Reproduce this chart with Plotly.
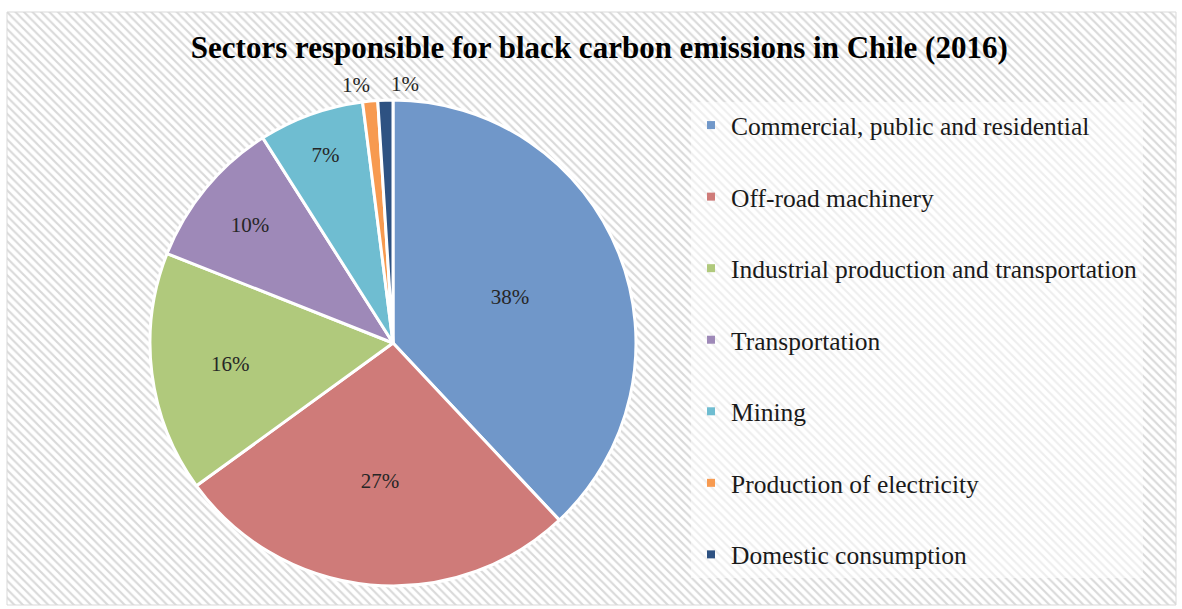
import math
import plotly.graph_objects as go

categories = ["Commercial, public and residential", "Off-road machinery",
              "Industrial production and transportation", "Transportation",
              "Mining", "Production of electricity", "Domestic consumption"]
values = [38, 27, 16, 10, 7, 1, 1]
colors = ["#7097c9", "#cf7b79", "#b0c97c", "#9e89b8", "#6fbdd1", "#f79a50", "#2e5282"]
inside_label = [True, True, True, True, True, False, False]
title_text = "Sectors responsible for black carbon emissions in Chile (2016)"

FONT = "Liberation Serif"
W, H = 1182, 609
ml, mr, mt, mb = 7, 6, 12, 4
pw, ph = W - ml - mr, H - mt - mb

fig = go.Figure()

# hatched background
fig.add_trace(go.Bar(
    x=[0.5], y=[1], width=[1], showlegend=False, hoverinfo="skip",
    marker=dict(color="white", line=dict(width=0),
                pattern=dict(shape="\\", size=6, solidity=0.35,
                             fgcolor="#d9d9d9", bgcolor="white", fillmode="replace")),
))

# pie
cx, cy, r = 393, 343, 243
dom_x = [(cx - r - ml) / pw, (cx + r - ml) / pw]
dom_y = [(H - mb - (cy + r)) / ph, (H - mb - (cy - r)) / ph]
texts = [f"{v}%" if ins else "" for v, ins in zip(values, inside_label)]
fig.add_trace(go.Pie(
    labels=categories, values=values, sort=False, direction="clockwise",
    rotation=0, marker=dict(colors=colors, line=dict(color="white", width=3)),
    text=texts, textinfo="text", textposition="inside",
    insidetextorientation="horizontal",
    textfont=dict(family=FONT, size=21, color="#262626"),
    showlegend=False, domain=dict(x=dom_x, y=dom_y), automargin=False,
))

# outside labels for the small slices, placed from their data angles
annotations = []
total = sum(values)
cum = 0
outside_idx = 0
for v, ins in zip(values, inside_label):
    mid = (cum + v / 2) / total * 2 * math.pi
    cum += v
    if ins:
        continue
    px = cx + r * math.sin(mid)
    py = cy - r * math.cos(mid) - 2
    left = outside_idx % 2 == 1
    annotations.append(dict(
        text=f"{v}%", xref="paper", yref="paper", showarrow=False,
        x=(px - ml + (4 if left else 2)) / pw, y=(H - mb - py) / ph,
        xanchor="left" if left else "right", yanchor="bottom",
        font=dict(family=FONT, size=21, color="#262626"),
    ))
    outside_idx += 1

# legend entries
for i, (c, col) in enumerate(zip(categories, colors)):
    fig.add_trace(go.Scatter(
        x=[None], y=[None], mode="markers", name=c, legendgroup=f"g{i}",
        marker=dict(symbol="square", size=8, color=col),
    ))

fig.update_layout(
    width=W, height=H,
    margin=dict(l=ml, r=mr, t=mt, b=mb),
    paper_bgcolor="white", plot_bgcolor="white",
    bargap=0,
    xaxis=dict(range=[0, 1], visible=False, fixedrange=True),
    yaxis=dict(range=[0, 1], visible=False, fixedrange=True),
    title=dict(text="<b>" + title_text + "</b>", x=0.507, xanchor="center",
               y=1 - 47 / H, yanchor="middle",
               font=dict(family=FONT, size=31, color="#000000")),
    legend=dict(x=(691 - ml) / pw, xanchor="left", y=(H - mb - 102) / ph, yanchor="top",
                bgcolor="rgba(255,255,255,0.55)", tracegroupgap=35.4,
                font=dict(family=FONT, size=25.5, color="#1a1a1a")),
    annotations=annotations,
    shapes=[dict(type="rect", xref="paper", yref="paper", x0=0, x1=1, y0=0, y1=1,
                 line=dict(color="#d9d9d9", width=1))],
    showlegend=True,
)

fig.write_html("out.html")
